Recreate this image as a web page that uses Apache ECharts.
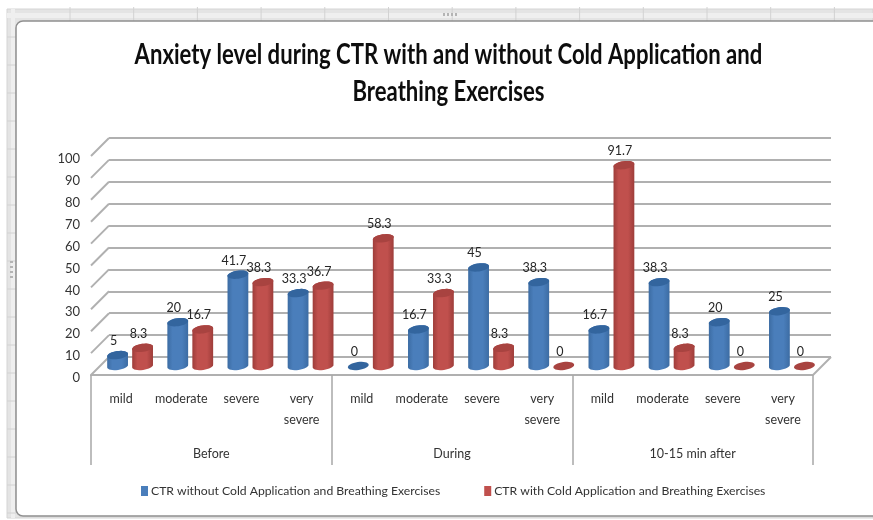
<!DOCTYPE html>
<html><head><meta charset="utf-8">
<style>html,body{margin:0;padding:0;background:#fff}#c{width:873px;height:520px}</style>
<script src="https://cdn.jsdelivr.net/npm/echarts@6/dist/echarts.min.js"></script>
</head><body><div id="c"></div>
<script>
const titleLines = ['Anxiety level during CTR with and without Cold Application and','Breathing Exercises'];
const categories = ['mild','moderate','severe','very\nsevere','mild','moderate','severe','very\nsevere','mild','moderate','severe','very\nsevere'];
const phases = ['Before','During','10-15 min after'];
const seriesWithoutName = 'CTR without Cold Application and Breathing Exercises';
const seriesWithName = 'CTR with Cold Application and Breathing Exercises';
const valuesWithout = [5,20,41.7,33.3,0,16.7,45,38.3,16.7,38.3,20,25];
const valuesWith = [8.3,16.7,38.3,36.7,58.3,33.3,8.3,0,91.7,8.3,0,0];
const yTicks = [0,10,20,30,40,50,60,70,80,90,100];

const FONT = 'Lato,"Liberation Sans",sans-serif';
const DEPTH = 9, BAR_OFFSET = 12.5, RX = 10.5, RY = 4, TILT = -8 * Math.PI / 180;
const chart = echarts.init(document.getElementById('c'), null, {renderer:'canvas'});

function ellipsePts(cx, cy, from, to, n) {
  const pts = [];
  for (let k = 0; k <= n; k++) {
    const a = from + (to - from) * k / n;
    pts.push([
      cx + RX * Math.cos(a) * Math.cos(TILT) - RY * Math.sin(a) * Math.sin(TILT),
      cy + RX * Math.cos(a) * Math.sin(TILT) + RY * Math.sin(a) * Math.cos(TILT)
    ]);
  }
  return pts;
}
function cylinder(sign, pal) {
  return function (params, api) {
    const v = api.value(1);
    const top = api.coord([api.value(0), v]);
    const base = api.coord([api.value(0), 0]);
    const cx = top[0] + sign * BAR_OFFSET;
    const children = [];
    if (v > 0) {
      const pts = ellipsePts(cx, base[1], 0, Math.PI, 16).concat(ellipsePts(cx, top[1], Math.PI, 2 * Math.PI, 16));
      children.push({type:'polygon', shape:{points:pts}, style:{fill:new echarts.graphic.LinearGradient(0,0,1,0,[
        {offset:0,color:pal.edge},{offset:0.25,color:pal.body},{offset:0.7,color:pal.body},{offset:1,color:pal.edge}
      ])}});
    }
    children.push({type:'polygon', shape:{points:ellipsePts(cx, top[1], 0, 2 * Math.PI, 32)}, style:{fill:pal.top}});
    children.push({type:'text', style:{
      text:String(v), x:cx - 4, y:top[1] - 14, align:'center', verticalAlign:'middle',
      font:'12.5px ' + FONT, fill:'#262626'
    }});
    return {type:'group', children};
  };
}
const blue = {edge:'#3c6ca3', body:'#4a7ebb', top:'#33659e'};
const red = {edge:'#9e3d3a', body:'#c0504d', top:'#a84340'};

function sideWalls(params, api) {
  const v = api.value(1);
  const p = api.coord([0, v]);
  const band = api.size([1, 0])[0];
  const left = p[0] - band / 2;
  const lines = [{type:'line', shape:{x1:left - DEPTH, y1:p[1] + DEPTH, x2:left + DEPTH, y2:p[1] - DEPTH},
    style:{stroke:'#b0b0b0', lineWidth:2}}];
  if (v === 0) {
    const right = api.coord([11, 0])[0] + band / 2;
    lines.push({type:'line', shape:{x1:right - DEPTH, y1:p[1] + DEPTH, x2:right + DEPTH, y2:p[1] - DEPTH},
      style:{stroke:'#b0b0b0', lineWidth:2}});
  }
  return {type:'group', children:lines};
}

const frame = [
  {type:'rect', silent:true, z:-10, shape:{x:7,y:9,width:866,height:509}, style:{fill:'#e4e4e4', stroke:'#d4d4d4'}},
  {type:'rect', silent:true, z:-9, shape:{x:7,y:13,width:866,height:5}, style:{fill:'#efefef'}},
  {type:'rect', silent:true, z:-9, shape:{x:11,y:9,width:4,height:509}, style:{fill:'#efefef'}}
];
for (let x = 70; x < 873; x += 63.7) {
  frame.push({type:'line', silent:true, z:-9, shape:{x1:x,y1:7,x2:x,y2:21}, style:{stroke:'#d2d2d2', lineWidth:1}});
}
for (let y = 37; y < 516; y += 28) {
  frame.push({type:'line', silent:true, z:-9, shape:{x1:7,y1:y,x2:16,y2:y}, style:{stroke:'#d2d2d2', lineWidth:1}});
}
for (let k = 0; k < 4; k++) {
  frame.push({type:'rect', silent:true, z:-9, shape:{x:443 + k * 4,y:13,width:2,height:3}, style:{fill:'#b4b4b4'}});
  frame.push({type:'rect', silent:true, z:-9, shape:{x:10,y:261 + k * 5,width:3,height:2}, style:{fill:'#b4b4b4'}});
}
frame.push({type:'rect', silent:true, z:-8, shape:{x:16,y:21,width:870,height:495,r:[7,0,0,7]}, style:{fill:'#fff', stroke:'#8f8f8f', lineWidth:1.5}});

const titleStyle = {font:'bold 28px ' + FONT, fill:'#0d0d0d', align:'center', verticalAlign:'middle'};
const titleEls = titleLines.map((t, i) => ({
  type:'text', silent:true, z:5, x:448.5, y:55 + i * 37, scaleX:0.79,
  style:Object.assign({text:t}, titleStyle)
}));

chart.setOption({
  animation:false,
  backgroundColor:'#fff',
  graphic:frame.concat(titleEls),
  legend:{left:136, top:480, width:720, itemWidth:7, itemHeight:10, itemGap:44, icon:'rect',
    data:[seriesWithoutName, seriesWithName],
    textStyle:{fontFamily:FONT, fontSize:12.2, color:'#333', padding:[0,0,0,-2]}},
  grid:[
    {left:91, width:722, top:156, height:219},
    {left:100, width:722, top:147, height:219},
    {left:109, width:722, top:138, height:219}
  ],
  xAxis:[
    {type:'category', gridIndex:0, data:categories, position:'bottom',
      axisLine:{show:true, lineStyle:{color:'#b0b0b0', width:2}}, axisTick:{show:false},
      axisLabel:{interval:0, margin:13, fontFamily:FONT, fontSize:12.5, lineHeight:21, color:'#333'}},
    {type:'category', gridIndex:0, data:phases, position:'bottom',
      axisLine:{show:false},
      axisTick:{show:true, length:90, lineStyle:{color:'#a8a8a8', width:1.5}},
      axisLabel:{interval:0, margin:72, fontFamily:FONT, fontSize:12.5, color:'#333'}},
    {type:'category', gridIndex:1, data:categories, show:false},
    {type:'category', gridIndex:2, data:categories, show:false}
  ],
  yAxis:[
    {type:'value', gridIndex:0, min:0, max:100, interval:10,
      axisLine:{show:false}, axisTick:{show:false}, splitLine:{show:false},
      axisLabel:{margin:11, fontFamily:FONT, fontSize:13, color:'#333', verticalAlign:'top', lineHeight:6}},
    {type:'value', gridIndex:1, min:0, max:100, interval:10, show:false, splitLine:{show:false}},
    {type:'value', gridIndex:2, min:0, max:100, interval:10,
      axisLine:{show:false}, axisTick:{show:false}, axisLabel:{show:false},
      splitLine:{show:true, lineStyle:{color:'#b0b0b0', width:2}}}
  ],
  series:[
    {type:'custom', name:'walls', xAxisIndex:2, yAxisIndex:1, silent:true, z:1, clip:false,
      renderItem:sideWalls, data:yTicks.map(v => [0, v])},
    {type:'custom', name:seriesWithoutName, xAxisIndex:2, yAxisIndex:1, z:3, clip:false,
      itemStyle:{color:'#4a7ebb'}, renderItem:cylinder(-1, blue),
      encode:{x:0, y:1}, data:valuesWithout.map((v,i) => [i, v])},
    {type:'custom', name:seriesWithName, xAxisIndex:2, yAxisIndex:1, z:3, clip:false,
      itemStyle:{color:'#c0504d'}, renderItem:cylinder(1, red),
      encode:{x:0, y:1}, data:valuesWith.map((v,i) => [i, v])}
  ]
});
</script></body></html>
